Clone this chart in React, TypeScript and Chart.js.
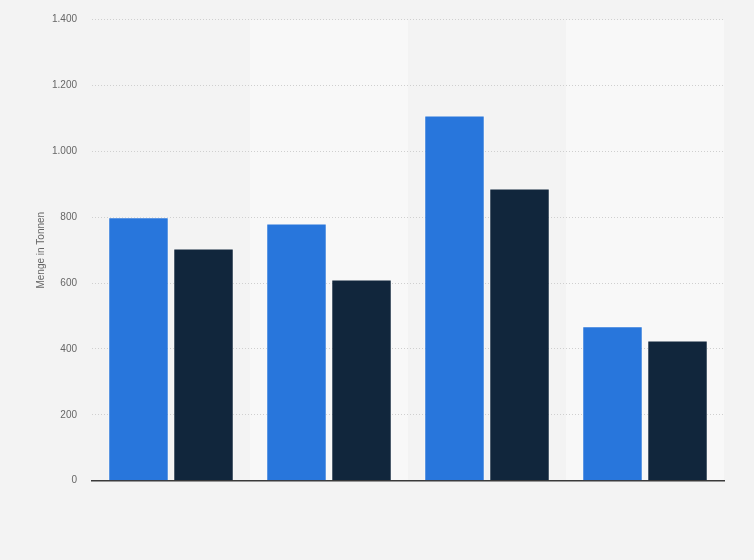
import React, { useEffect, useRef } from "react";
import { Chart, registerables } from "chart.js";

Chart.register(...registerables);

const categories = ["Kategorie 1", "Kategorie 2", "Kategorie 3", "Kategorie 4"];
const seriesA = [800, 781, 1109, 469];
const seriesB = [705, 611, 887, 426];
const yTicks = [0, 200, 400, 600, 800, 1000, 1200, 1400];

const fmt = (v: number) => String(v).replace(/\B(?=(\d{3})+(?!\d))/g, ".");

const bandPlugin = {
  id: "bands",
  beforeDraw(chart: any) {
    const { ctx, chartArea, scales } = chart;
    const x = scales.x;
    const n = categories.length;
    const w = (chartArea.right - chartArea.left) / n;
    ctx.save();
    ctx.fillStyle = "#f8f8f8";
    for (let i = 1; i < n; i += 2) {
      const c = x.getPixelForValue(i);
      ctx.fillRect(c - w / 2, chartArea.top, w, chartArea.bottom - chartArea.top);
    }
    ctx.restore();
  },
};

export default function App() {
  const ref = useRef<HTMLCanvasElement | null>(null);
  useEffect(() => {
    if (!ref.current) return;
    const chart = new Chart(ref.current, {
      type: "bar",
      data: {
        labels: categories,
        datasets: [
          {
            label: "Serie 1",
            data: seriesA,
            backgroundColor: "#2876dc",
            borderColor: "rgba(255,255,255,0.45)",
            borderWidth: 1,
            categoryPercentage: 0.823,
            barPercentage: 0.93,
          },
          {
            label: "Serie 2",
            data: seriesB,
            backgroundColor: "#11263c",
            borderColor: "rgba(255,255,255,0.45)",
            borderWidth: 1,
            categoryPercentage: 0.823,
            barPercentage: 0.93,
          },
        ],
      },
      options: {
        animation: false,
        responsive: true,
        maintainAspectRatio: false,
        layout: { padding: { left: 0, right: 30, top: 10, bottom: 71.3 } },
        plugins: { legend: { display: false }, tooltip: { enabled: false } },
        scales: {
          x: {
            display: true,
            ticks: { display: false },
            grid: { display: false },
            border: { display: true, color: "#3a3a3a", width: 1.5 },
          },
          y: {
            min: 0,
            max: 1400,
            afterBuildTicks: (s: any) => {
              s.ticks = yTicks.map((v) => ({ value: v }));
            },
            afterFit: (s: any) => {
              s.width = 92;
            },
            ticks: {
              color: "#666",
              font: { family: "Liberation Sans, Arial, sans-serif", size: 10, lineHeight: 0.94 },
              padding: 15,
              callback: (v: any) => fmt(Number(v)),
            },
            grid: { color: "#cfcfcf", lineWidth: 1, drawTicks: false },
            border: { display: false, dash: [1, 2] },
            title: {
              display: true,
              text: "Menge in Tonnen",
              color: "#666",
              font: { family: "Liberation Sans, Arial, sans-serif", size: 10 },
              padding: { top: 35, bottom: 0 },
            },
          },
        },
      },
      plugins: [bandPlugin],
    });
    return () => chart.destroy();
  }, []);
  return (
    <div
      style={{
        position: "fixed",
        left: 0,
        top: 0,
        width: 754,
        height: 560,
        background: "#f3f3f3",
      }}
    >
      <canvas ref={ref} />
    </div>
  );
}
